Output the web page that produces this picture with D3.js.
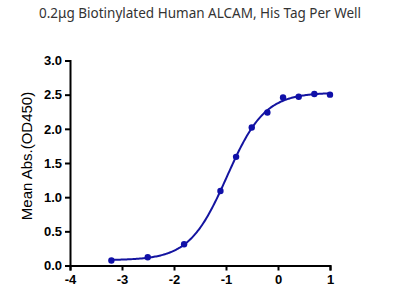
<!DOCTYPE html>
<html><head><meta charset="utf-8">
<script src="https://cdn.jsdelivr.net/npm/d3@7"></script>
<style>body{margin:0;background:#fff}svg{display:block}</style>
</head><body>
<script>
const logConc = [-3.204, -2.505, -1.806, -1.107, -0.806, -0.505, -0.204, 0.097, 0.398, 0.699, 1.0];
const meanAbs = [0.073, 0.12, 0.31, 1.09, 1.59, 2.02, 2.24, 2.46, 2.47, 2.51, 2.50];
const xTicks = [-4, -3, -2, -1, 0, 1];
const yTicks = [0, 0.5, 1.0, 1.5, 2.0, 2.5, 3.0];
const title = "0.2μg Biotinylated Human ALCAM, His Tag Per Well";
const yLabel = "Mean Abs.(OD450)";

const W = 400, H = 300;
const svg = d3.select("body").append("svg").attr("width", W).attr("height", H);
const x = d3.scaleLinear().domain([-4, 1]).range([70, 330]);
const y = d3.scaleLinear().domain([0, 3]).range([265.5, 60.5]);

svg.append("text").attr("x", 200).attr("y", 18).attr("text-anchor", "middle")
  .attr("font-family", "Noto Sans").attr("font-size", 13.5).attr("fill", "#333")
  .text(title);

const xa = svg.append("g").attr("transform", "translate(0,265.5)")
  .call(d3.axisBottom(x).tickValues(xTicks).tickSize(5).tickPadding(4).tickFormat(d => String(d)));
const ya = svg.append("g").attr("transform", "translate(70,0)")
  .call(d3.axisLeft(y).tickValues(yTicks).tickSize(5).tickPadding(3).tickFormat(d => d.toFixed(1)));
[xa, ya].forEach(a => {
  a.select(".domain").attr("stroke", "#000").attr("stroke-width", 2);
  a.selectAll(".tick line").attr("stroke", "#000").attr("stroke-width", 2);
  a.selectAll("text").attr("font-family", "Liberation Sans").attr("font-weight", "bold")
    .attr("font-size", 13).attr("fill", "#000");
});

svg.append("text").attr("transform", "translate(32,156) rotate(-90)")
  .attr("text-anchor", "middle").attr("font-family", "Liberation Sans")
  .attr("font-size", 15).attr("fill", "#000").text(yLabel);

// 4-parameter logistic fit of the data (Nelder-Mead least squares)
function model(p, c) { return p[0] + (p[1] - p[0]) / (1 + Math.pow(10, (p[2] - c) * p[3])); }
function sse(p) { return d3.sum(logConc, (c, i) => (model(p, c) - meanAbs[i]) ** 2); }
function nelderMead(f, x0) {
  const n = x0.length;
  let s = [x0.slice()];
  for (let i = 0; i < n; i++) { const v = x0.slice(); v[i] += 0.2 * (Math.abs(v[i]) || 1); s.push(v); }
  for (let it = 0; it < 3000; it++) {
    s.sort((a, b) => f(a) - f(b));
    const c = new Array(n).fill(0);
    for (let i = 0; i < n; i++) for (let j = 0; j < n; j++) c[j] += s[i][j] / n;
    const w = s[n];
    const r = c.map((v, j) => v + (v - w[j]));
    if (f(r) < f(s[0])) {
      const e = c.map((v, j) => v + 2 * (v - w[j]));
      s[n] = f(e) < f(r) ? e : r;
    } else if (f(r) < f(s[n - 1])) s[n] = r;
    else {
      const k = c.map((v, j) => v + 0.5 * (w[j] - v));
      if (f(k) < f(w)) s[n] = k;
      else for (let i = 1; i <= n; i++) s[i] = s[i].map((v, j) => s[0][j] + 0.5 * (v - s[0][j]));
    }
  }
  s.sort((a, b) => f(a) - f(b));
  return s[0];
}
const fit = nelderMead(sse, [0.05, 2.5, -1, 1.2]);
const xs = d3.range(0, 201).map(i => logConc[0] + (logConc[logConc.length - 1] - logConc[0]) * i / 200);
const curve = xs.map(c => [c, model(fit, c)]);

const line = d3.line().x(d => x(d[0])).y(d => y(d[1]));
svg.append("path").datum(curve).attr("d", line).attr("fill", "none")
  .attr("stroke", "#1414a0").attr("stroke-width", 2);
const pts = logConc.map((c, i) => [c, meanAbs[i]]);
svg.selectAll("circle.pt").data(pts).enter().append("circle")
  .attr("cx", d => x(d[0])).attr("cy", d => y(d[1])).attr("r", 3.2).attr("fill", "#1010a8");
</script>
</body></html>
